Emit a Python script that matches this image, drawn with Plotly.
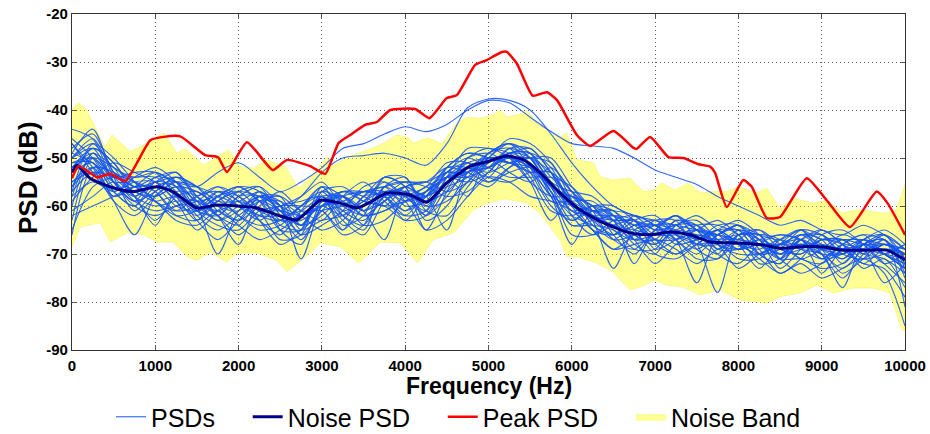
import plotly.graph_objects as go

# ---------------- data ----------------
freq_grid = [0, 250, 500, 750, 1000, 1250, 1500, 1750, 2000, 2250, 2500, 2750, 3000, 3250, 3500,
             3750, 4000, 4250, 4500, 4750, 5000, 5250, 5500, 5750, 6000, 6250, 6500, 6750, 7000,
             7250, 7500, 7750, 8000, 8250, 8500, 8750, 9000, 9250, 9500, 9750, 10000]

psd_01 = [-50, -47, -52, -54, -53, -55, -56, -53, -51, -54, -57, -55, -52, -48, -47, -45, -43.5, -44.5, -43, -40, -38, -38.5, -41.5, -44.5, -47, -47.5, -48, -50, -52.5, -54, -55.5, -58, -60, -62, -64, -63, -65, -66, -64, -66, -69]
psd_02 = [-56, -50, -55, -58, -55, -58, -61, -58, -56, -59, -61, -58, -53, -50, -49.5, -49, -50, -51.5, -47, -39.5, -37.7, -38, -40, -45, -51, -56, -60, -62, -63, -64, -65, -66, -67, -68, -70, -67, -69, -70, -68, -70, -73]
psd_03 = [-48, -45, -53, -57, -58, -56, -57, -60, -63, -58, -58, -64, -62, -58, -57, -57, -61, -58, -52, -52, -54, -49, -49, -56, -63, -60, -61, -66, -68, -63, -65, -69, -66, -65, -69, -70, -67, -67, -70, -68, -69]
psd_04 = [-63, -50, -52, -55, -57, -61, -60, -57, -59, -63, -66, -61, -56, -62, -65, -56, -54, -60, -59, -55, -49, -47, -52, -59, -59, -59, -63, -68, -70, -64, -63, -67, -71, -71, -67, -65, -69, -74, -71, -67, -74]
psd_05 = [-50, -48, -55, -60, -62, -60, -58, -56, -59, -62, -63, -60, -58, -64, -62, -54, -56, -65, -57, -50, -48, -50, -55, -58, -58, -60, -66, -70, -65, -62, -67, -70, -65, -67, -73, -69, -65, -68, -72, -69, -70]
psd_06 = [-59, -54, -51, -53, -55, -59, -65, -61, -57, -56, -62, -67, -60, -57, -59, -60, -59, -57, -53, -54, -56, -52, -49, -52, -60, -65, -66, -62, -64, -67, -70, -66, -64, -68, -71, -66, -67, -72, -68, -66, -73]
psd_07 = [-51, -51, -58, -56, -53, -56, -62, -65, -62, -59, -59, -62, -65, -63, -58, -56, -60, -59, -53, -50, -52, -54, -54, -54, -56, -61, -67, -66, -63, -63, -69, -71, -67, -65, -68, -71, -72, -69, -67, -70, -68]
psd_08 = [-57, -47, -50, -55, -59, -62, -61, -58, -57, -61, -67, -66, -57, -59, -64, -63, -59, -56, -54, -55, -53, -48, -48, -53, -62, -66, -64, -63, -68, -70, -67, -65, -65, -70, -72, -67, -65, -68, -73, -71, -77]
psd_09 = [-47, -52, -59, -62, -58, -55, -56, -58, -62, -64, -63, -60, -56, -61, -63, -58, -55, -56, -58, -57, -53, -49, -50, -57, -64, -63, -62, -63, -69, -67, -64, -64, -66, -72, -71, -66, -68, -71, -67, -66, -71]
psd_10 = [-65, -56, -54, -54, -54, -57, -63, -67, -63, -58, -59, -65, -63, -62, -58, -54, -56, -63, -60, -53, -49, -48, -53, -60, -63, -61, -61, -65, -70, -71, -68, -65, -68, -73, -68, -65, -70, -75, -70, -67, -81]
psd_11 = [-52, -49, -52, -58, -60, -59, -59, -62, -66, -62, -60, -59, -58, -63, -66, -59, -56, -58, -53, -51, -54, -55, -53, -53, -57, -62, -67, -69, -65, -62, -65, -70, -72, -68, -66, -67, -71, -68, -66, -70, -72]
psd_12 = [-55, -53, -57, -54, -52, -55, -61, -59, -56, -57, -65, -68, -59, -57, -57, -58, -62, -61, -52, -49, -50, -51, -50, -51, -59, -65, -69, -66, -64, -64, -67, -64, -64, -69, -74, -71, -66, -65, -68, -72, -70]
psd_13 = [-49, -51, -55, -55, -57, -62, -63, -58, -56, -59, -65, -65, -57, -56, -59, -60, -63, -62, -54, -48, -48, -49, -54, -61, -62, -60, -60, -63, -67, -70, -68, -65, -63, -66, -71, -74, -72, -68, -66, -67, -71]
psd_14 = [-61, -58, -55, -59, -61, -60, -59, -56, -58, -63, -68, -65, -56, -58, -62, -61, -58, -56, -51, -51, -55, -53, -52, -57, -66, -66, -63, -62, -64, -67, -71, -71, -66, -66, -71, -71, -73, -72, -68, -67, -75]
psd_15 = [-50, -46, -54, -61, -57, -54, -58, -62, -64, -59, -58, -61, -61, -65, -60, -54, -54, -61, -62, -56, -51, -49, -48, -53, -59, -61, -61, -62, -65, -64, -62, -65, -68, -67, -66, -67, -69, -67, -68, -68, -70]
psd_16 = [-56, -52, -53, -56, -54, -53, -59, -63, -61, -58, -61, -66, -64, -61, -56, -55, -58, -57, -54, -54, -52, -48, -50, -58, -64, -64, -65, -69, -69, -64, -64, -68, -70, -70, -68, -66, -66, -69, -72, -73, -79]
psd_17 = [-46, -50, -57, -60, -56, -55, -61, -64, -65, -61, -60, -58, -55, -60, -62, -61, -59, -58, -56, -54, -49, -47, -49, -55, -57, -58, -62, -67, -72, -68, -66, -68, -73, -70, -68, -69, -70, -73, -69, -66, -69]
psd_18 = [-58, -49, -54, -53, -53, -58, -63, -59, -57, -58, -60, -62, -60, -59, -57, -56, -55, -55, -53, -53, -50, -46, -47, -51, -57, -60, -62, -64, -64, -62, -65, -66, -64, -66, -67, -65, -67, -67, -67, -68, -69]
psd_19 = [-62, -60, -58, -56, -59, -63, -64, -61, -64, -67, -65, -62, -61, -66, -64, -56, -59, -65, -63, -58, -54, -55, -58, -59, -61, -65, -69, -68, -67, -69, -72, -69, -68, -71, -74, -72, -75, -73, -71, -74, -85]
psd_20 = [-52, -48, -51, -56, -55, -54, -56, -59, -59, -57, -60, -64, -59, -58, -61, -59, -56, -55, -52, -53, -55, -52, -50, -50, -56, -61, -63, -63, -65, -67, -65, -63, -66, -70, -69, -65, -66, -70, -67, -65, -68]
psd_21 = [-44, -46, -55, -59, -57, -54, -56, -61, -63, -60, -57, -61, -63, -58, -55, -59, -62, -57, -52, -49, -50, -53, -55, -52, -57, -64, -66, -63, -62, -66, -69, -66, -64, -67, -70, -67, -66, -70, -71, -68, -70]
psd_22 = [-66, -52, -53, -58, -55, -53, -58, -62, -58, -56, -60, -66, -61, -57, -58, -60, -56, -55, -57, -55, -50, -47, -50, -56, -61, -60, -62, -67, -67, -63, -64, -69, -69, -66, -67, -71, -69, -66, -68, -72, -76]
psd_23 = [-54, -48, -51, -58, -63, -58, -57, -60, -61, -57, -61, -64, -58, -62, -64, -58, -58, -62, -56, -50, -49, -51, -52, -57, -62, -64, -67, -64, -64, -68, -67, -65, -68, -70, -68, -67, -71, -70, -67, -70, -73]
psd_24 = [-49, -44, -53, -55, -59, -61, -58, -57, -60, -63, -60, -60, -60, -58, -61, -56, -55, -59, -57, -53, -52, -49, -49, -54, -58, -62, -63, -63, -66, -66, -65, -68, -69, -67, -69, -70, -67, -68, -71, -70, -68]
psd_25 = [-58, -55, -57, -55, -55, -59, -62, -59, -62, -65, -64, -60, -57, -61, -59, -55, -58, -61, -54, -51, -52, -50, -52, -58, -60, -63, -64, -67, -66, -64, -68, -68, -65, -68, -70, -68, -70, -70, -68, -70, -72]
psd_26 = [-53, -51, -57, -60, -55, -56, -61, -62, -58, -58, -63, -63, -60, -59, -62, -59, -57, -62, -58, -52, -50, -51, -53, -53, -60, -61, -63, -66, -68, -65, -64, -67, -69, -68, -68, -66, -69, -71, -68, -67, -72]
psd_27 = [-51, -50, -56, -57, -59, -58, -60, -63, -60, -59, -64, -65, -61, -60, -57, -58, -61, -57, -54, -53, -51, -49, -51, -56, -58, -60, -65, -67, -64, -65, -67, -66, -68, -69, -67, -69, -71, -68, -69, -70, -71]
psd_28 = [-60, -49, -55, -59, -54, -55, -59, -58, -60, -62, -62, -61, -58, -58, -61, -58, -56, -58, -55, -53, -50, -50, -50, -53, -59, -63, -66, -64, -63, -66, -68, -67, -66, -66, -70, -69, -67, -67, -70, -71, -74]
psd_29 = [-47, -53, -58, -56, -56, -60, -61, -57, -58, -61, -61, -62, -60, -62, -59, -57, -59, -58, -54, -52, -53, -51, -50, -55, -61, -62, -62, -64, -67, -67, -65, -66, -69, -68, -68, -68, -69, -69, -69, -68, -70]
psd_30 = [-57, -53, -54, -56, -58, -56, -59, -61, -59, -61, -63, -62, -59, -60, -60, -57, -57, -60, -55, -51, -50, -50, -52, -56, -60, -62, -64, -65, -66, -65, -66, -67, -67, -68, -69, -68, -68, -69, -69, -69, -70]
psd_31 = [-55, -52, -59, -66, -58, -55, -60, -70, -61, -58, -60, -71, -60, -58, -61, -67, -57, -58, -65, -53, -52, -50, -55, -63, -58, -63, -73, -65, -64, -67, -76, -66, -65, -70, -72, -67, -74, -69, -69, -76, -72]
psd_32 = [-52, -50, -54, -58, -64, -57, -58, -62, -68, -59, -61, -64, -58, -65, -58, -58, -63, -58, -54, -58, -50, -51, -53, -58, -68, -61, -63, -72, -65, -66, -68, -78, -66, -67, -71, -68, -70, -77, -68, -70, -73]

psd_list = [psd_01, psd_02, psd_03, psd_04, psd_05, psd_06, psd_07, psd_08, psd_09, psd_10,
            psd_11, psd_12, psd_13, psd_14, psd_15, psd_16, psd_17, psd_18, psd_19, psd_20,
            psd_21, psd_22, psd_23, psd_24, psd_25, psd_26, psd_27, psd_28, psd_29, psd_30,
            psd_31, psd_32]

noise_f = [0, 60, 216, 490, 730, 1020, 1210, 1500, 1740, 2050, 2220, 2470, 2700, 2980, 3220, 3420,
           3580, 3780, 4060, 4260, 4500, 4780, 4980, 5220, 5420, 5620, 5860, 6100, 6380, 6700, 6940,
           7180, 7420, 7660, 8020, 8290, 8500, 8740, 9010, 9250, 9540, 9780, 9960, 10000]
noise_db = [-53, -51.5, -54.2, -56.2, -57, -56, -57, -60.4, -59.8, -60.1, -60.4, -61.9, -62.9, -58.8,
            -59.4, -60.4, -59.2, -57.3, -57.7, -59.2, -55.2, -51.7, -50.8, -49.6, -50.4, -53.1, -57.3,
            -60.8, -63.5, -65.6, -66, -65.4, -66, -67.5, -67.7, -68.1, -68.8, -68.5, -68.5, -69.2,
            -69.2, -69.2, -70.8, -71.3]

peak_f = [0, 80, 300, 460, 640, 940, 1100, 1300, 1600, 1750, 1860, 2100, 2410, 2580, 2860, 3040,
          3200, 3340, 3520, 3660, 3820, 4120, 4290, 4500, 4620, 4840, 4980, 5160, 5220, 5340, 5530,
          5700, 5820, 6060, 6220, 6500, 6740, 6780, 6940, 7160, 7340, 7520, 7660, 7720, 7860, 8060,
          8160, 8340, 8500, 8820, 9060, 9340, 9660, 9790, 10000]
peak_db = [-54.2, -51.7, -54, -53.3, -54.8, -46.3, -45.6, -45.5, -49.4, -49.8, -52.9, -46.7, -52.5,
           -50.4, -51.7, -53.3, -46.9, -45.2, -43.1, -42.5, -40, -39.8, -41.7, -37.5, -36.9, -30.6,
           -29.6, -27.9, -27.9, -30.3, -37, -36.3, -37.9, -45.2, -47.5, -44.4, -47.9, -48.1, -45.6,
           -49.8, -50, -51.3, -51.8, -53.1, -60.2, -54.6, -56, -62.5, -62.3, -54.2, -58.8, -64.4,
           -57, -59.4, -66]

band_hi_f = [0, 75, 160, 400, 480, 700, 860, 1100, 1260, 1360, 1580, 1880, 2020, 2180, 2340, 2560,
             2720, 2900, 3060, 3140, 3260, 3440, 3700, 3900, 4020, 4100, 4280, 4440, 4620, 4740,
             4900, 5060, 5140, 5220, 5420, 5460, 5580, 5740, 5860, 5940, 6060, 6260, 6340, 6480,
             6700, 6860, 6980, 7080, 7240, 7400, 7540, 7660, 7860, 8000, 8220, 8340, 8500, 8660,
             8900, 9060, 9250, 9420, 9620, 9780, 9900, 9970, 10000]
band_hi_db = [-40, -38.5, -39.6, -47.7, -45.2, -48.7, -47.3, -44.8, -49, -48, -51.5, -48.3, -51.8,
              -52.1, -50.4, -51.8, -56.3, -53.5, -49.8, -51.5, -50.3, -49, -47.3, -45.2, -45.6,
              -46.9, -45.8, -47.1, -42.7, -41.5, -41.7, -41, -40, -41.5, -40.7, -40, -42.7, -44.6,
              -45.6, -44.8, -50.4, -51, -53.9, -54.6, -54.2, -57, -56.7, -55.2, -56.7, -55.2, -57.3,
              -57, -57, -56, -57.3, -56.3, -60.5, -58.4, -59.4, -58.8, -61.5, -60.8, -61.2, -61.5,
              -60.8, -57, -55.5]

band_lo_f = [0, 100, 340, 460, 660, 860, 1020, 1210, 1380, 1500, 1660, 1860, 1980, 2220, 2460, 2580,
             2860, 2980, 3220, 3440, 3700, 3940, 4150, 4330, 4580, 4820, 4980, 5200, 5460, 5620,
             5860, 5940, 6060, 6300, 6500, 6580, 6700, 6820, 7000, 7140, 7330, 7540, 7780, 8020,
             8340, 8500, 8740, 8940, 9140, 9380, 9620, 9820, 9960, 10000]
band_lo_db = [-68.5, -64.4, -63.5, -67.5, -65.6, -66, -67.5, -67.5, -70.5, -71.3, -69.6, -71.7, -69.8,
              -69.8, -71.3, -73.7, -69.8, -67.7, -68.5, -71.9, -67.5, -67.7, -71.9, -67.1, -65.6,
              -60.8, -59.4, -58.5, -59.4, -61.5, -67.1, -70.5, -70.5, -71.9, -73.7, -75.4, -77.5,
              -76.9, -75.4, -76.5, -76.9, -78.5, -77.5, -79.6, -80.2, -78.9, -78.1, -76.5, -78.1,
              -77.1, -77.1, -78.1, -85.8, -86]

x_ticks = [0, 1000, 2000, 3000, 4000, 5000, 6000, 7000, 8000, 9000, 10000]
y_ticks = [-90, -80, -70, -60, -50, -40, -30, -20]

# ---------------- figure ----------------
FONT = "Liberation Sans, Arial, Helvetica, sans-serif"
W, H = 930, 434
ML, MR, MT, MB = 72, 25, 14, 84
PH = H - MT - MB
PW = W - ML - MR
fig = go.Figure()

fig.add_trace(go.Scatter(
    x=band_hi_f + band_lo_f[::-1], y=band_hi_db + band_lo_db[::-1],
    fill="toself", fillcolor="rgba(255,255,0,0.42)",
    line=dict(color="rgba(235,235,60,0.7)", width=0.6),
    mode="lines", name="Noise Band\u00a0", legendrank=4, hoverinfo="skip"))

for i, p in enumerate(psd_list):
    fig.add_trace(go.Scatter(
        x=freq_grid, y=p, mode="lines",
        line=dict(color="rgba(20,85,245,0.88)", width=1.15, shape="spline", smoothing=0.8),
        name="PSDs\u00a0\u00a0\u00a0\u00a0", legendgroup="psd", showlegend=(i == 0), legendrank=1))

fig.add_trace(go.Scatter(
    x=noise_f, y=noise_db, mode="lines", name="Noise PSD\u00a0\u00a0\u00a0\u00a0", legendrank=2,
    line=dict(color="#00008c", width=3, shape="spline", smoothing=0.6)))

fig.add_trace(go.Scatter(
    x=peak_f, y=peak_db, mode="lines", name="Peak PSD\u00a0\u00a0\u00a0\u00a0", legendrank=3,
    line=dict(color="#ff0000", width=2.5, shape="spline", smoothing=0.5)))

axis_common = dict(
    showgrid=True, gridcolor="rgba(60,60,60,0.85)", griddash="1px,3px", gridwidth=1,
    showline=True, linecolor="#333333", linewidth=1.2, mirror="ticks",
    ticks="inside", ticklen=5, tickcolor="#555555", zeroline=False, automargin=False,
    ticklabeloverflow="allow",
    tickfont=dict(family=FONT, size=15, color="black", weight="bold"),
)

fig.update_layout(
    width=W, height=H,
    margin=dict(l=ML, r=MR, t=MT, b=MB),
    plot_bgcolor="white", paper_bgcolor="white",
    font=dict(family=FONT, color="black"),
    showlegend=True,
    legend=dict(orientation="h", x=462 / W, xanchor="center", xref="container",
                y=1 - 417 / H, yanchor="middle", yref="container",
                font=dict(family=FONT, size=25, color="black"),
                traceorder="normal", itemwidth=30, bgcolor="rgba(0,0,0,0)"),
    xaxis=dict(range=[0, 10000], tickvals=x_ticks, ticktext=[str(v) for v in x_ticks],
               ticklabelstandoff=2, **axis_common),
    yaxis=dict(range=[-90, -20], tickvals=y_ticks, ticktext=[str(v) for v in y_ticks],
               **axis_common),
    annotations=[
        dict(text="Frequency (Hz)", xref="paper", yref="paper", x=0.5,
             y=-(386 - (MT + PH)) / PH, xanchor="center", yanchor="middle",
             showarrow=False, font=dict(family=FONT, size=23, color="black", weight="bold")),
        dict(text="PSD (dB)", xref="paper", yref="paper", x=-(ML - 28) / PW,
             y=0.5 + 4 / PH, xanchor="center", yanchor="middle", textangle=-90,
             showarrow=False, font=dict(family=FONT, size=26, color="black", weight="bold")),
    ],
)

# remove the browser's default 8px body margin so the figure fills the window exactly
fig.write_html("out.html", config={"displayModeBar": False},
               post_script="document.body.style.margin='0px';")
